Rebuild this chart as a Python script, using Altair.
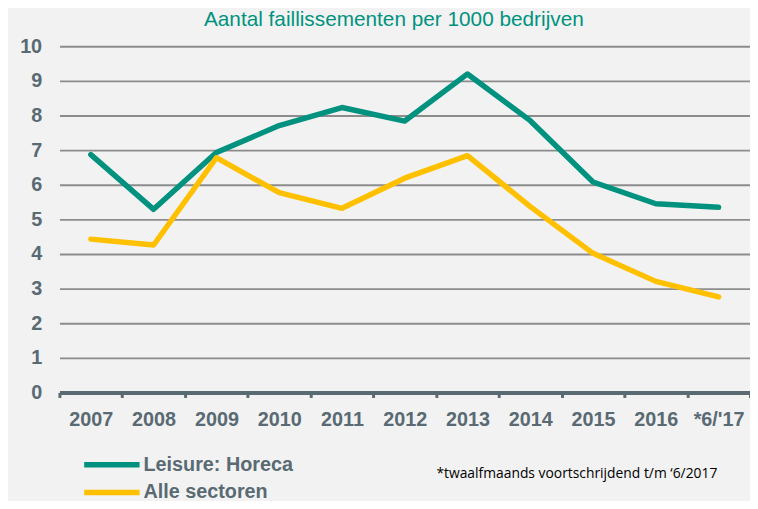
import altair as alt
import pandas as pd

years = ["2007", "2008", "2009", "2010", "2011", "2012", "2013", "2014", "2015", "2016", "*6/'17"]
horeca = [6.87, 5.29, 6.93, 7.71, 8.23, 7.84, 9.20, 7.85, 6.08, 5.45, 5.35]
alle = [4.43, 4.26, 6.78, 5.77, 5.32, 6.19, 6.84, 5.37, 4.02, 3.21, 2.76]
series = ["Leisure: Horeca", "Alle sectoren"]
colors = ["#00927F", "#FFC000"]
title_text = "Aantal faillissementen per 1000 bedrijven"
note_text = "*twaalfmaands voortschrijdend t/m \u20186/2017"

rows = []
for i, y in enumerate(years):
    rows.append({"jaar": y, "reeks": series[0], "waarde": horeca[i], "o": 0})
    rows.append({"jaar": y, "reeks": series[1], "waarde": alle[i], "o": 1})
df = pd.DataFrame(rows)

label_color = "#596A73"
font = "Liberation Sans"

lines = alt.Chart(df).mark_line(strokeWidth=5.5, strokeCap="round", strokeJoin="round").encode(
    x=alt.X("jaar:N", sort=years, title=None,
            scale=alt.Scale(type="band", paddingInner=0, paddingOuter=0),
            axis=alt.Axis(labelAngle=0, labelFont=font, labelFontWeight="bold", labelFontSize=20,
                          labelColor=label_color, labelPadding=12, tickBand="extent",
                          ticks=True, tickSize=5, tickWidth=3, tickColor=label_color,
                          domain=True, domainColor=label_color, domainWidth=4,
                          grid=False, zindex=1)),
    y=alt.Y("waarde:Q", title=None,
            scale=alt.Scale(domain=[0, 10], nice=False, zero=True),
            axis=alt.Axis(values=list(range(0, 11)), labelFont=font, labelFontWeight="bold",
                          labelFontSize=20, labelColor=label_color, labelPadding=18,
                          ticks=False, domain=False, grid=True, gridColor="#8C8C8C",
                          gridWidth=2, gridOpacity=1)),
    color=alt.Color("reeks:N", sort=series,
                    scale=alt.Scale(domain=series, range=colors),
                    legend=alt.Legend(title=None, orient="none", legendX=43, legendY=413,
                                      symbolType="M-5.6,0H5.6", symbolStrokeWidth=5.5,
                                      symbolSize=100, symbolFillColor="transparent",
                                      labelFont=font, labelFontWeight="bold", labelFontSize=20,
                                      labelColor=label_color, labelOffset=22, rowPadding=6,
                                      labelLimit=400)),
    order="o:Q",
)

note = alt.Chart(pd.DataFrame({"t": [note_text]})).mark_text(
    align="left", baseline="middle", font="Open Sans", fontSize=14, color="#000000"
).encode(x=alt.value(381), y=alt.value(432), text="t:N")

chart = alt.layer(lines, note).properties(
    width=698, height=350,
    background="#F2F2F2",
    padding={"left": 52, "top": 36, "right": 0, "bottom": 107},
    autosize=alt.AutoSizeParams(type="none"),
    title=alt.TitleParams(title_text, font=font, fontSize=21, fontWeight="normal",
                          color="#00927F", anchor="middle", frame="group", dx=-11,
                          offset=6),
).configure_view(stroke=None)

chart.save("out.html", embed_options={"renderer": "svg", "actions": False})
